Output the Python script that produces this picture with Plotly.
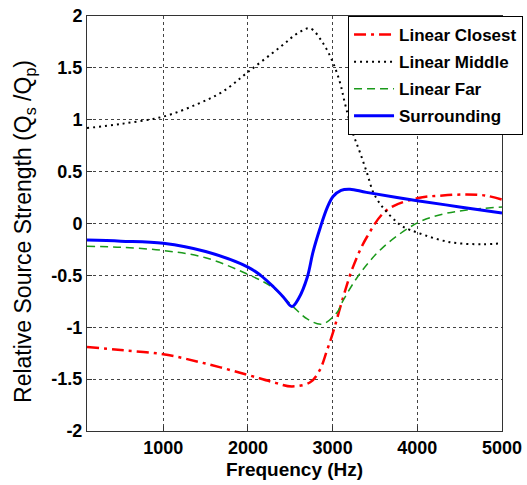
import plotly.graph_objects as go

# Data
closest_x = [100, 500, 1000, 1500, 2000, 2300, 2520, 2735, 2850, 2935, 3005, 3125, 3240, 3405, 3640, 4010, 4300, 4585, 4800, 5000]
closest_y = [-1.19, -1.22, -1.26, -1.35, -1.46, -1.53, -1.57, -1.53, -1.41, -1.22, -1.05, -0.71, -0.42, -0.13, 0.13, 0.245, 0.27, 0.28, 0.27, 0.23]

middle_x = [100, 500, 1000, 1400, 1700, 2000, 2380, 2600, 2735, 2885, 3005, 3090, 3145, 3240, 3325, 3405, 3480, 3560, 3640, 3750, 3830, 4010, 4385, 4775, 5000]
middle_y = [0.92, 0.96, 1.03, 1.15, 1.27, 1.46, 1.70, 1.84, 1.88, 1.74, 1.55, 1.35, 1.16, 0.87, 0.68, 0.49, 0.30, 0.19, 0.11, 0.02, -0.03, -0.09, -0.18, -0.20, -0.19]

far_x = [100, 500, 1000, 1500, 2000, 2300, 2520, 2700, 2875, 3050, 3125, 3325, 3595, 4010, 4300, 4585, 5000]
far_y = [-0.22, -0.23, -0.26, -0.33, -0.49, -0.62, -0.79, -0.92, -0.97, -0.86, -0.74, -0.48, -0.23, 0.01, 0.09, 0.13, 0.16]

surr_x = [100, 500, 1000, 1500, 2000, 2150, 2300, 2420, 2520, 2600, 2700, 2770, 2850, 2935, 3005, 3100, 3205, 3400, 4000, 4500, 5000]
surr_y = [-0.16, -0.17, -0.19, -0.27, -0.42, -0.50, -0.61, -0.71, -0.80, -0.72, -0.52, -0.27, -0.05, 0.15, 0.26, 0.32, 0.33, 0.30, 0.22, 0.16, 0.10]

x_ticks = [1000, 2000, 3000, 4000, 5000]
y_ticks = [-2, -1.5, -1, -0.5, 0, 0.5, 1, 1.5, 2]
y_ticktext = ["-2", "-1.5", "-1", "-0.5", "0", "0.5", "1", "1.5", "2"]

FONT = "Liberation Sans, Arial, sans-serif"

fig = go.Figure()
fig.add_trace(go.Scatter(x=closest_x, y=closest_y, mode="lines", name="Linear Closest",
                         line=dict(color="#ff0000", width=2.5, dash="12px,5px,3px,5px", shape="spline"),
                         legendgroup="a"))
fig.add_trace(go.Scatter(x=middle_x, y=middle_y, mode="lines", name="Linear Middle",
                         line=dict(color="#000000", width=2, dash="2px,4px", shape="spline"),
                         legendgroup="b"))
fig.add_trace(go.Scatter(x=far_x, y=far_y, mode="lines", name="Linear Far",
                         line=dict(color="#1a9a1a", width=1.5, dash="8px,5px", shape="spline"),
                         legendgroup="c"))
fig.add_trace(go.Scatter(x=surr_x, y=surr_y, mode="lines", name="Surrounding",
                         line=dict(color="#0000ff", width=3, shape="spline"),
                         legendgroup="d"))

fig.update_layout(
    width=527, height=485,
    margin=dict(l=87, r=25, t=16, b=54, autoexpand=False),
    paper_bgcolor="white", plot_bgcolor="white",
    font=dict(family=FONT, color="black"),
    showlegend=True,
    legend=dict(x=0.629, y=1.0, xanchor="left", yanchor="top",
                bgcolor="white", bordercolor="black", borderwidth=1,
                font=dict(family=FONT, size=17, weight="bold", color="black"),
                traceorder="grouped", tracegroupgap=2, itemwidth=40),
    annotations=[dict(
        text="Relative Source Strength (Q<sub>s</sub> /Q<sub>p</sub>)",
        xref="paper", yref="paper", x=-0.149, y=0.48,
        xanchor="center", yanchor="middle", textangle=-90, showarrow=False,
        font=dict(family=FONT, size=23, color="black"),
    )],
)
fig.update_xaxes(
    range=[100, 5000], tickvals=x_ticks,
    showgrid=True, gridcolor="#444444", griddash="dot", gridwidth=1,
    showline=True, mirror=True, linecolor="#333333", linewidth=1,
    ticks="inside", ticklen=5, tickcolor="#333333",
    tickfont=dict(family=FONT, size=18, weight="bold"),
    title=dict(text="Frequency (Hz)", font=dict(family=FONT, size=19, weight="bold"), standoff=6),
    zeroline=False,
)
fig.update_yaxes(
    range=[-2, 2], tickvals=y_ticks, ticktext=y_ticktext,
    showgrid=True, gridcolor="#444444", griddash="dot", gridwidth=1,
    showline=True, mirror=True, linecolor="#333333", linewidth=1,
    ticks="inside", ticklen=5, tickcolor="#333333",
    tickfont=dict(family=FONT, size=18, weight="bold"),
    zeroline=False,
)

fig.write_html("out.html")
